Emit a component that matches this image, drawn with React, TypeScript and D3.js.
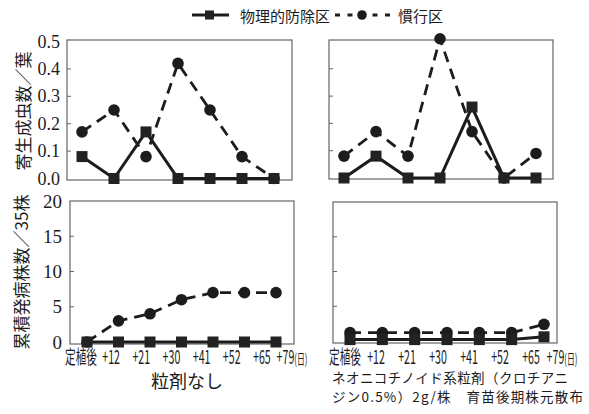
import React from "react";
import * as d3 from "d3";

// ---------- data ----------
const surveys = ["s1", "s2", "s3", "s4", "s5", "s6", "s7"];
const xTickLabels = ["定植後", "+12", "+21", "+30", "+41", "+52", "+65", "+79"];
const seriesNames = ["物理的防除区", "慣行区"];

const adultTicks = [0, 0.1, 0.2, 0.3, 0.4, 0.5];
const diseaseTicks = [0, 5, 10, 15, 20];

// 寄生成虫数/葉
const adultNoneBarrier = [0.08, 0, 0.17, 0, 0, 0, 0];
const adultNoneConv = [0.17, 0.25, 0.08, 0.42, 0.25, 0.08, 0];
const adultNeoBarrier = [0, 0.08, 0, 0, 0.26, 0, 0];
const adultNeoConv = [0.08, 0.17, 0.08, 0.51, 0.17, 0, 0.09];

// 累積発病株数/35株
const diseaseNoneBarrier = [0, 0, 0, 0, 0, 0, 0];
const diseaseNoneConv = [0, 3, 4, 6, 7, 7, 7];
const diseaseNeoBarrier = [0.2, 0.2, 0.2, 0.2, 0.2, 0.2, 0.6];
const diseaseNeoConv = [1.2, 1.2, 1.2, 1.2, 1.2, 1.2, 2.4];

const yLabelTop = "寄生成虫数／葉";
const yLabelBottom = "累積発病株数／35株";
const titleLeft = "粒剤なし";
const titleRight1 = "ネオニコチノイド系粒剤（クロチアニ";
const titleRight2 = "ジン0.5%）2g/株　育苗後期株元散布";

const INK = "#1c1c1c";
const SERIF = "'Liberation Serif', 'DejaVu Serif', serif";
const CJK = "'Noto Sans CJK JP', 'Noto Sans', sans-serif";

type PanelProps = {
  box: [number, number, number, number]; // x0, x1, y0, y1
  yDomain: [number, number];
  yRange: [number, number];
  xRange: [number, number];
  ticks: number[];
  barrier: number[];
  conv: number[];
};

function Panel({ box, yDomain, yRange, xRange, ticks, barrier, conv }: PanelProps) {
  const [x0, x1, y0, y1] = box;
  const x = d3.scalePoint<string>().domain(surveys).range(xRange);
  const y = d3.scaleLinear().domain(yDomain).range(yRange);
  const line = d3
    .line<number>()
    .x((_, i) => x(surveys[i]) as number)
    .y((d) => y(d));
  const inner = ticks.slice(1, -1);
  return (
    <g>
      <rect x={x0} y={y0} width={x1 - x0} height={y1 - y0} fill="none" stroke="#666" strokeWidth={1.2} />
      {inner.map((t) => (
        <line key={t} x1={x0} x2={x0 + 4} y1={y(t)} y2={y(t)} stroke="#666" strokeWidth={1} />
      ))}
      <path d={line(conv) || ""} fill="none" stroke={INK} strokeWidth={2.8} strokeDasharray="11,7" />
      {conv.map((v, i) => (
        <circle key={"c" + i} cx={x(surveys[i]) as number} cy={y(v)} r={5.8} fill={INK} />
      ))}
      <path d={line(barrier) || ""} fill="none" stroke={INK} strokeWidth={3} />
      {barrier.map((v, i) => (
        <rect
          key={"s" + i}
          x={(x(surveys[i]) as number) - 5.5}
          y={y(v) - 5.5}
          width={11}
          height={11}
          fill="#222"
        />
      ))}
    </g>
  );
}

function XLabels({ range }: { range: [number, number] }) {
  const lx = d3.scalePoint<string>().domain(xTickLabels).range(range);
  return (
    <g fill={INK}>
      {xTickLabels.map((l, i) => {
        const last = i === xTickLabels.length - 1;
        return (
          <text
            key={l}
            transform={`translate(${lx(l)},364) scale(0.56,1)`}
            textAnchor="middle"
            fontSize={19}
            fontFamily={CJK}
          >
            {l}
            {last ? <tspan fontSize={14}>(日)</tspan> : null}
          </text>
        );
      })}
    </g>
  );
}

export default function App() {
  const yTop = d3.scaleLinear().domain([0, 0.5]).range([178.5, 41.5]);
  const yBot = d3.scaleLinear().domain([0, 20]).range([342, 201]);
  return (
    <svg
      width={589}
      height={414}
      style={{ position: "absolute", left: 0, top: 0, background: "#fff" }}
    >
      {/* legend */}
      <g>
        <line x1={192} x2={229} y1={15} y2={15} stroke={INK} strokeWidth={3} />
        <rect x={205} y={10.5} width={9} height={9} fill="#222" />
        <text x={240} y={15} dominantBaseline="central" fontSize={15} fontFamily={CJK} fill={INK}>
          {seriesNames[0]}
        </text>
        <line x1={335} x2={390} y1={15} y2={15} stroke={INK} strokeWidth={3} strokeDasharray="5,7.5" />
        <circle cx={362} cy={15} r={4.8} fill={INK} />
        <text x={398} y={15} dominantBaseline="central" fontSize={15} fontFamily={CJK} fill={INK}>
          {seriesNames[1]}
        </text>
      </g>

      {/* y axis titles */}
      <text
        transform="translate(22,111) rotate(-90)"
        textAnchor="middle"
        dominantBaseline="central"
        fontSize={17}
        fontFamily={CJK}
        fill={INK}
      >
        {yLabelTop}
      </text>
      <text
        transform="translate(20,272) rotate(-90)"
        textAnchor="middle"
        dominantBaseline="central"
        fontSize={17}
        fontFamily={CJK}
        fill={INK}
      >
        {yLabelBottom}
      </text>

      {/* y tick labels */}
      {adultTicks.map((t) => (
        <text
          key={"a" + t}
          x={60}
          y={yTop(t)}
          textAnchor="end"
          dominantBaseline="central"
          fontSize={18}
          fontFamily={SERIF}
          fill={INK}
        >
          {t.toFixed(1)}
        </text>
      ))}
      {diseaseTicks.map((t) => (
        <text
          key={"d" + t}
          x={62}
          y={yBot(t)}
          textAnchor="end"
          dominantBaseline="central"
          fontSize={19}
          fontFamily={SERIF}
          fill={INK}
        >
          {t}
        </text>
      ))}

      <Panel
        box={[67, 292, 40, 180]}
        yDomain={[0, 0.5]}
        yRange={[178.5, 41.5]}
        xRange={[82, 274]}
        ticks={adultTicks}
        barrier={adultNoneBarrier}
        conv={adultNoneConv}
      />
      <Panel
        box={[329, 553, 40, 179]}
        yDomain={[0, 0.5]}
        yRange={[178, 41.5]}
        xRange={[344, 536]}
        ticks={adultTicks}
        barrier={adultNeoBarrier}
        conv={adultNeoConv}
      />
      <Panel
        box={[70, 294, 201, 344]}
        yDomain={[0, 20]}
        yRange={[342, 201]}
        xRange={[87, 276]}
        ticks={diseaseTicks}
        barrier={diseaseNoneBarrier}
        conv={diseaseNoneConv}
      />
      <Panel
        box={[333, 557, 202, 343]}
        yDomain={[0, 20]}
        yRange={[341, 202]}
        xRange={[350, 544]}
        ticks={diseaseTicks}
        barrier={diseaseNeoBarrier}
        conv={diseaseNeoConv}
      />

      <XLabels range={[81, 292]} />
      <XLabels range={[345, 562]} />

      <text x={187} y={380} textAnchor="middle" dominantBaseline="central" fontSize={18} fontFamily={CJK} fill={INK}>
        {titleLeft}
      </text>
      <text x={332} y={377} dominantBaseline="central" fontSize={13.5} fontFamily={CJK} fill={INK} textLength={236}>
        {titleRight1}
      </text>
      <text x={332} y={396} dominantBaseline="central" fontSize={13.5} fontFamily={CJK} fill={INK} textLength={251}>
        {titleRight2}
      </text>
    </svg>
  );
}
